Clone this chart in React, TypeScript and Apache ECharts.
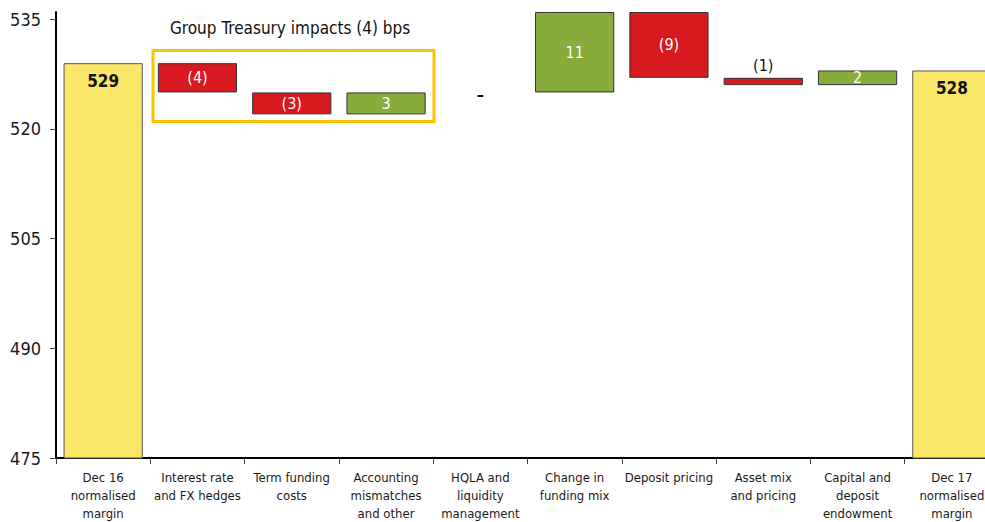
import React, { useEffect, useRef } from "react";
import * as echarts from "echarts";

const categories = [
  "Dec 16\nnormalised\nmargin",
  "Interest rate\nand FX hedges",
  "Term funding\ncosts",
  "Accounting\nmismatches\nand other",
  "HQLA and\nliquidity\nmanagement",
  "Change in\nfunding mix",
  "Deposit pricing",
  "Asset mix\nand pricing",
  "Capital and\ndeposit\nendowment",
  "Dec 17\nnormalised\nmargin",
];
const movements = [529, -4, -3, 3, 0, 11, -9, -1, 2, 528];
const kinds = ["total", "delta", "delta", "delta", "delta", "delta", "delta", "delta", "delta", "total"];
const valueLabels = ["529", "(4)", "(3)", "3", "–", "11", "(9)", "(1)", "2", "528"];
const yTicks = [475, 490, 505, 520, 535];
const titleText = "Group Treasury impacts (4) bps";

const FONT = "'DejaVu Sans Condensed', 'Liberation Sans Narrow', sans-serif";
const YELLOW = "#FCE668";
const RED = "#D81920";
const GREEN = "#88AC3B";

export default function App() {
  const ref = useRef<HTMLDivElement>(null);
  useEffect(() => {
    if (!ref.current) return;
    const chart = echarts.init(ref.current, null, { renderer: "svg" });

    let running = 0;
    const base: any[] = [];
    const vis: any[] = [];
    movements.forEach((m, i) => {
      if (kinds[i] === "total") {
        running = m;
        base.push(0);
        vis.push({
          value: m,
          itemStyle: { color: YELLOW, borderColor: "#555", borderWidth: 1 },
          label: {
            show: true,
            position: "insideTop",
            distance: 9,
            formatter: valueLabels[i],
            color: "#111",
            fontSize: 17,
            fontWeight: "bold",
            fontFamily: FONT,
          },
        });
      } else {
        const lo = Math.min(running, running + m);
        running += m;
        base.push(lo);
        const h = Math.abs(m);
        if (m === 0) {
          vis.push({
            value: 0,
            itemStyle: { color: "transparent", borderWidth: 0 },
            label: {
              show: true,
              position: "inside",
              formatter: valueLabels[i],
              color: "#111",
              fontSize: 16,
              fontWeight: "bold",
              fontFamily: FONT,
              offset: [0, 2],
            },
          });
        } else {
          const small = h <= 1;
          vis.push({
            value: h,
            itemStyle: { color: m < 0 ? RED : GREEN, borderColor: "#333", borderWidth: 1 },
            label: {
              show: true,
              position: small ? "top" : "inside",
              distance: 4,
              formatter: valueLabels[i],
              color: small ? "#111" : "#fff",
              fontSize: 16,
              fontFamily: FONT,
            },
          });
        }
      }
    });

    chart.setOption({
      animation: false,
      textStyle: { fontFamily: FONT },
      grid: { left: 56, right: 0, top: 12, bottom: 62, containLabel: false },
      xAxis: {
        type: "category",
        data: categories,
        axisLine: { show: true, lineStyle: { color: "#000", width: 2 } },
        axisTick: { show: true, interval: 0, length: 6, lineStyle: { color: "#444", width: 1 } },
        axisLabel: {
          interval: 0,
          fontSize: 13,
          lineHeight: 18,
          margin: 10,
          color: "#1a1a1a",
          fontFamily: FONT,
        },
      },
      yAxis: {
        type: "value",
        min: 475,
        max: 536,
        axisLine: { show: true, lineStyle: { color: "#000", width: 2 } },
        axisTick: { show: true, length: 6, customValues: yTicks, lineStyle: { color: "#444" } },
        axisLabel: {
          customValues: yTicks,
          fontSize: 18,
          margin: 15,
          color: "#1a1a1a",
          fontFamily: FONT,
        },
        splitLine: { show: false },
      },
      series: [
        {
          type: "bar",
          stack: "w",
          data: base,
          itemStyle: { color: "transparent", borderWidth: 0 },
          emphasis: { disabled: true },
          barCategoryGap: "16%",
          silent: true,
        },
        {
          type: "bar",
          stack: "w",
          data: vis,
          barCategoryGap: "16%",
        },
      ],
      graphic: [
        {
          type: "rect",
          shape: { x: 153, y: 50.5, width: 281, height: 71 },
          style: { fill: "none", stroke: "#F8C600", lineWidth: 3 },
          z: 10,
        },
        {
          type: "text",
          x: 170,
          y: 28,
          style: {
            text: titleText,
            fontSize: 17,
            fontFamily: FONT,
            fill: "#111",
            verticalAlign: "middle",
            textAlign: "left",
          },
          z: 10,
        },
      ],
    });
    return () => chart.dispose();
  }, []);
  return (
    <div style={{ position: "fixed", left: 0, top: 0, width: 985, height: 522, overflow: "hidden", background: "#fff" }}>
      <div ref={ref} style={{ width: 999, height: 522 }} />
    </div>
  );
}
